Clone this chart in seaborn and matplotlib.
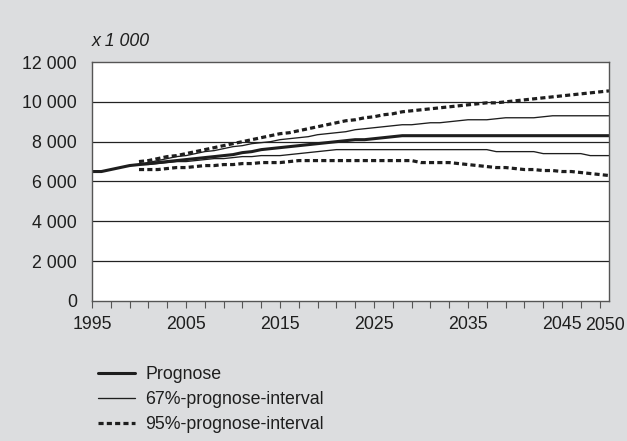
import numpy as np
import pandas as pd
import matplotlib
matplotlib.use("Agg")
import matplotlib.pyplot as plt
from matplotlib.lines import Line2D
import seaborn as sns

sns.set_theme(style="white")
plt.rcParams['font.family'] = ['Liberation Sans', 'DejaVu Sans']

years = list(range(1995, 2051))
interval_years = list(range(2000, 2051))

prognose = [6500, 6500, 6600, 6700, 6800,
            6850, 6900, 6950, 7000, 7050, 7100, 7150, 7200, 7250, 7300,
            7350, 7450, 7500, 7600, 7650, 7700, 7750, 7800, 7850, 7900,
            7950, 8000, 8050, 8100, 8100, 8150, 8200, 8250, 8300, 8300,
            8300, 8300, 8300, 8300, 8300, 8300, 8300, 8300, 8300, 8300,
            8300, 8300, 8300, 8300, 8300, 8300, 8300, 8300, 8300, 8300, 8300]

upper67 = [6850, 6950, 7050, 7150, 7250, 7300, 7400, 7500, 7550, 7650,
           7750, 7800, 7900, 7950, 8000, 8100, 8150, 8200, 8250, 8350,
           8400, 8450, 8500, 8600, 8650, 8700, 8750, 8800, 8850, 8850,
           8900, 8950, 8950, 9000, 9050, 9100, 9100, 9100, 9150, 9200,
           9200, 9200, 9200, 9250, 9300, 9300, 9300, 9300, 9300, 9300, 9300]

lower67 = [6850, 6850, 6900, 6950, 7000, 7000, 7050, 7100, 7150, 7150,
           7200, 7250, 7250, 7300, 7300, 7300, 7350, 7400, 7450, 7500,
           7550, 7600, 7600, 7600, 7600, 7600, 7600, 7600, 7600, 7600,
           7600, 7600, 7600, 7600, 7600, 7600, 7600, 7600, 7500, 7500,
           7500, 7500, 7500, 7400, 7400, 7400, 7400, 7400, 7300, 7300, 7300]

upper95 = [7000, 7050, 7150, 7250, 7300, 7400, 7500, 7600, 7700, 7800,
           7900, 8000, 8100, 8200, 8300, 8400, 8450, 8550, 8650, 8750,
           8850, 8950, 9050, 9100, 9200, 9250, 9350, 9400, 9500, 9550,
           9600, 9650, 9700, 9750, 9800, 9850, 9900, 9950, 9950, 10000,
           10050, 10100, 10150, 10200, 10250, 10300, 10350, 10400, 10450, 10500, 10550]

lower95 = [6600, 6600, 6600, 6650, 6700, 6700, 6750, 6800, 6800, 6850,
           6850, 6900, 6900, 6950, 6950, 6950, 7000, 7050, 7050, 7050,
           7050, 7050, 7050, 7050, 7050, 7050, 7050, 7050, 7050, 7050,
           6950, 6950, 6950, 6950, 6900, 6850, 6800, 6750, 6700, 6700,
           6650, 6600, 6600, 6550, 6550, 6500, 6500, 6450, 6400, 6350, 6300]

legend_labels = ["Prognose", "67%-prognose-interval", "95%-prognose-interval"]
y_ticks = [0, 2000, 4000, 6000, 8000, 10000, 12000]
x_label_years = [1995, 2005, 2015, 2025, 2035, 2045]
x_end_year = 2050

bg = "#dcdddf"
ink = "#1e1e1e"

fig = plt.figure(figsize=(6.27, 4.41), dpi=100, facecolor=bg)
ax = fig.add_axes([0.1467, 0.3175, 0.9713 - 0.1467, 0.8594 - 0.3175])
ax.set_facecolor("white")

dash95 = (1.6, 1.0)


def draw(xs, data, lw, dashes=None):
    d = pd.DataFrame({"year": xs, "value": data})
    sns.lineplot(data=d, x="year", y="value", ax=ax, color=ink, linewidth=lw, legend=False)
    l = ax.lines[-1]
    if dashes:
        l.set_dashes(dashes)
        l.set_dash_capstyle("butt")
    return l


for yv in y_ticks[1:-1]:
    ax.axhline(yv, color="#222222", linewidth=0.9, zorder=1)

draw(interval_years, upper95, 2.3, dash95)
draw(interval_years, lower95, 2.3, dash95)
draw(interval_years, upper67, 0.95)
draw(interval_years, lower67, 0.95)
draw(years, prognose, 2.2)

ax.set_xlim(1995, 2050)
ax.set_ylim(0, 12000)
ax.set_xlabel("")
ax.set_ylabel("")

major = list(range(1995, 2050, 2))
ax.set_xticks(major)
ax.set_xticklabels([str(t) if t in x_label_years else "" for t in major])
# end label sits just inside the right edge, as in the reference
ax.set_xticks([x_end_year - 0.4], minor=True)
ax.set_xticklabels([str(x_end_year)], minor=True)
ax.tick_params(axis="x", which="major", direction="out", length=5, width=0.8, color="#555555",
               bottom=True, pad=6.0, labelsize=12.8, labelcolor=ink)
ax.tick_params(axis="x", which="minor", length=0, pad=11.8, labelsize=12.8, labelcolor=ink, bottom=True)

ax.set_yticks(y_ticks)
ax.set_yticklabels([f"{v:,}".replace(",", " ") for v in y_ticks])
ax.tick_params(axis="y", length=0, pad=10.8, labelsize=12.8, labelcolor=ink)

for s in ax.spines.values():
    s.set_visible(True)
    s.set_color("#555555")
    s.set_linewidth(1.0)

fig.text(0.1467, 0.905, "x 1 000", style="italic", fontsize=12.8, color=ink, ha="left", va="center")

handles = [Line2D([0], [0], color=ink, linewidth=2.2),
           Line2D([0], [0], color=ink, linewidth=0.95),
           Line2D([0], [0], color=ink, linewidth=2.3, dashes=dash95)]
fig.legend(handles, legend_labels, loc="upper left",
           bbox_to_anchor=(98 / 627, 1 - 366 / 441), bbox_transform=fig.transFigure,
           frameon=False, fontsize=12.8, handlelength=2.1, handletextpad=0.55, labelspacing=0.45,
           borderaxespad=0, borderpad=0, labelcolor=ink)

fig.savefig("out.png", dpi=100, facecolor=bg)
